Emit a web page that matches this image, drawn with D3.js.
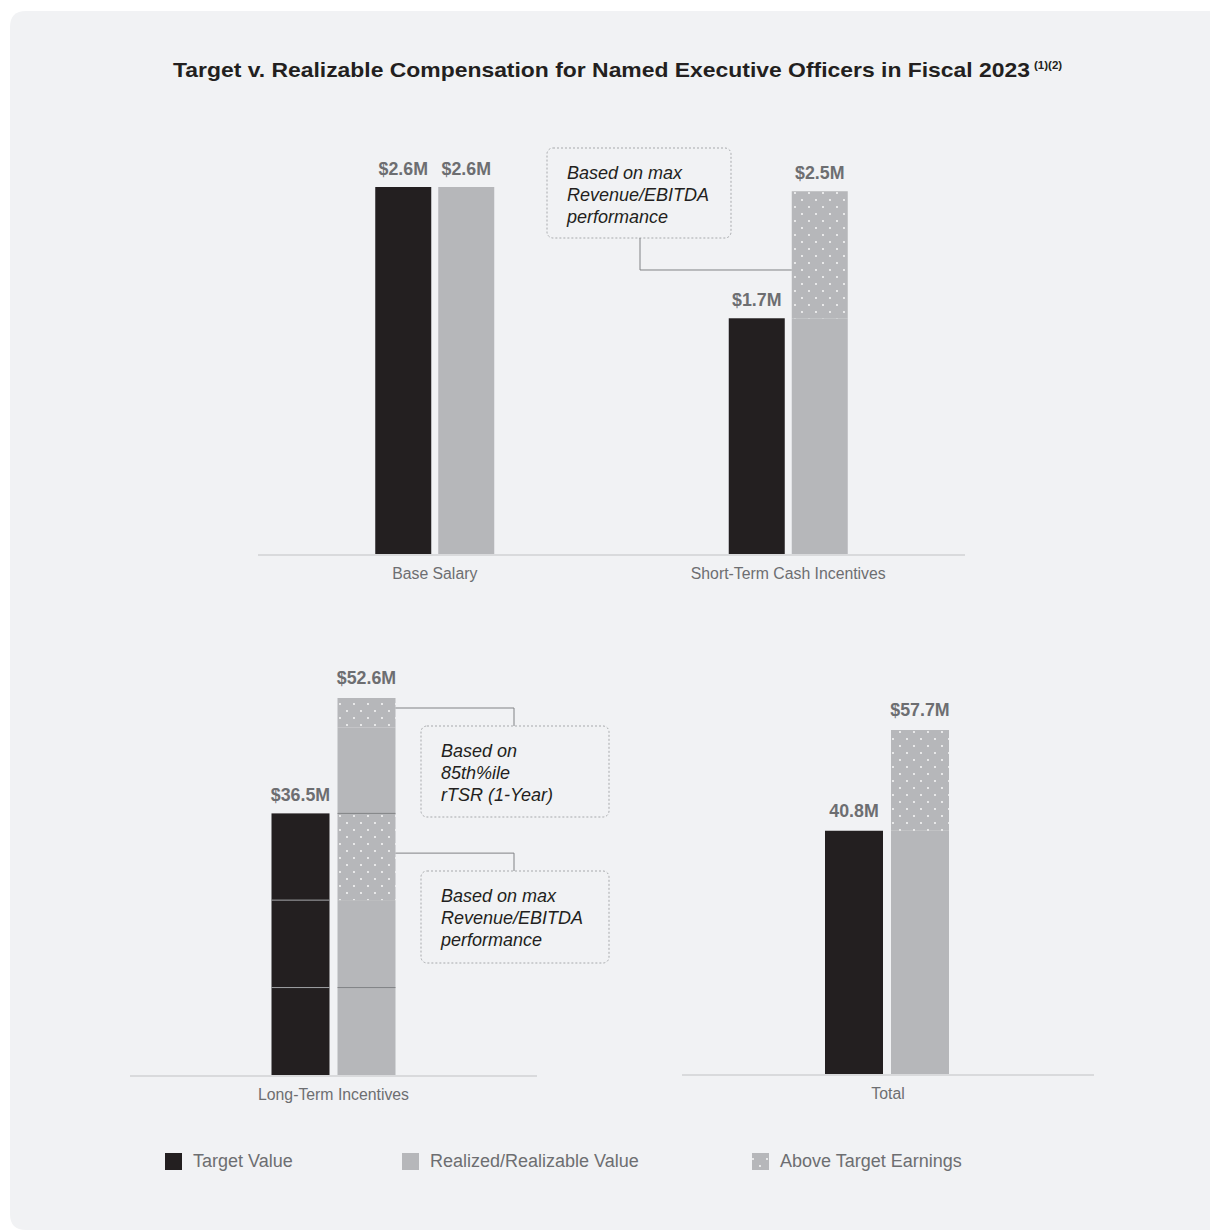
<!DOCTYPE html>
<html>
<head>
<meta charset="utf-8">
<script src="https://cdn.jsdelivr.net/npm/d3@7"></script>
<style>
  html, body { margin: 0; padding: 0; background: #ffffff; }
  svg { display: block; font-family: "Liberation Sans", Arial, Helvetica, sans-serif; }
</style>
</head>
<body>
<svg id="chart" width="1210" height="1231"></svg>
<script>
// ---------- DATA ----------
const titleText = "Target v. Realizable Compensation for Named Executive Officers in Fiscal 2023";
const titleNote = "(1)(2)";

const topCategories = ["Base Salary", "Short-Term Cash Incentives"];
const topTarget = [2.6, 1.67];
const topRealized = [2.6, 2.57];
const topTargetLabels = ["$2.6M", "$1.7M"];
const topRealizedLabels = ["$2.6M", "$2.5M"];

const ltiCategory = ["Long-Term Incentives"];
const ltiTargetSegments = [12.2, 12.2, 12.1];           // stacked pieces of target value
const ltiRealizedSegments = [12.2, 12.2, 12.1, 12.0, 4.1]; // stacked pieces of realized value
const ltiRealizedDotted = [false, false, true, false, true];
const ltiTargetLabel = "$36.5M";
const ltiRealizedLabel = "$52.6M";

const totalCategory = ["Total"];
const totalTarget = [40.8];
const totalRealized = [57.7];
const totalTargetLabels = ["40.8M"];
const totalRealizedLabels = ["$57.7M"];

const noteSTI = ["Based on max", "Revenue/EBITDA", "performance"];
const noteRTSR = ["Based on", "85th%ile", "rTSR (1-Year)"];
const noteRev = ["Based on max", "Revenue/EBITDA", "performance"];

const legendLabels = ["Target Value", "Realized/Realizable Value", "Above Target Earnings"];

// ---------- STYLE ----------
const C_DARK = "#231f20";
const C_GRAY = "#b6b7ba";
const C_TEXT = "#6d6e71";
const C_AXIS = "#d9dadc";
const C_BG = "#f1f2f4";

const svg = d3.select("#chart");

// background card
svg.append("path")
  .attr("d", (() => {
    const x0 = 10, y0 = 11, x1 = 1215, y1 = 1230, r = 16;
    return `M${x0 + r},${y0} L${x1},${y0} L${x1},${y1} L${x0 + r},${y1} Q${x0},${y1} ${x0},${y1 - r} L${x0},${y0 + r} Q${x0},${y0} ${x0 + r},${y0} Z`;
  })())
  .attr("fill", C_BG);

// dotted pattern
const defs = svg.append("defs");
const pat = defs.append("pattern")
  .attr("id", "dots").attr("patternUnits", "userSpaceOnUse")
  .attr("width", 14).attr("height", 14);
pat.append("rect").attr("width", 14).attr("height", 14).attr("fill", C_GRAY);
pat.append("circle").attr("cx", 4).attr("cy", 4).attr("r", 0.9).attr("fill", "#ffffff");
pat.append("circle").attr("cx", 11).attr("cy", 11).attr("r", 0.9).attr("fill", "#ffffff");

// title
const title = svg.append("text")
  .attr("y", 77)
  .attr("font-weight", "bold").attr("fill", C_DARK);
title.append("tspan").attr("x", 173).attr("font-size", 21)
  .attr("textLength", 857).attr("lengthAdjust", "spacingAndGlyphs").text(titleText);
title.append("tspan").attr("x", 1034).attr("font-size", 11.5).attr("dy", -8).text(titleNote);

// helpers
function axisLine(g, x0, x1, y) {
  g.append("line").attr("x1", x0).attr("x2", x1).attr("y1", y).attr("y2", y)
    .attr("stroke", C_AXIS).attr("stroke-width", 2);
}
function catLabel(g, x, y, t) {
  g.append("text").attr("x", x).attr("y", y).attr("text-anchor", "middle")
    .attr("font-size", 15.8).attr("fill", C_TEXT).text(t);
}
function valLabel(g, x, y, t) {
  g.append("text").attr("x", x).attr("y", y).attr("text-anchor", "middle")
    .attr("font-size", 17.8).attr("font-weight", "bold").attr("fill", C_TEXT).text(t);
}
function noteBox(g, x, y, w, h, lines) {
  g.append("rect").attr("x", x).attr("y", y).attr("width", w).attr("height", h)
    .attr("rx", 6).attr("ry", 6).attr("fill", "none")
    .attr("stroke", "#a7a9ac").attr("stroke-width", 1).attr("stroke-dasharray", "2,2");
  lines.forEach((l, i) => {
    g.append("text").attr("x", x + 20).attr("y", y + 31 + i * 22)
      .attr("font-size", 18).attr("font-style", "italic").attr("fill", C_DARK).text(l);
  });
}
function connector(g, pts) {
  g.append("path").attr("d", d3.line()(pts)).attr("fill", "none")
    .attr("stroke", "#808285").attr("stroke-width", 1);
}

// ---------- TOP PANEL ----------
const gTop = svg.append("g");
const topBase = 554;
const xTop = d3.scaleBand().domain(topCategories).range([258, 965]).paddingInner(0).paddingOuter(0);
const yTop = d3.scaleLinear().domain([0, 2.6]).range([topBase, 187]);
const barW = 56, gap = 7;

topCategories.forEach((c, i) => {
  const cx = xTop(c) + xTop.bandwidth() / 2;
  const xa = cx - gap / 2 - barW, xb = cx + gap / 2;
  // target
  gTop.append("rect").attr("x", xa).attr("y", yTop(topTarget[i])).attr("width", barW)
    .attr("height", topBase - yTop(topTarget[i])).attr("fill", C_DARK);
  // realized (solid portion up to target)
  const solidTop = Math.min(topTarget[i], topRealized[i]);
  gTop.append("rect").attr("x", xb).attr("y", yTop(solidTop)).attr("width", barW)
    .attr("height", topBase - yTop(solidTop)).attr("fill", C_GRAY);
  if (topRealized[i] > topTarget[i]) {
    gTop.append("rect").attr("x", xb).attr("y", yTop(topRealized[i])).attr("width", barW)
      .attr("height", yTop(topTarget[i]) - yTop(topRealized[i])).attr("fill", "url(#dots)");
  }
  valLabel(gTop, xa + barW / 2, yTop(topTarget[i]) - 12, topTargetLabels[i]);
  valLabel(gTop, xb + barW / 2, yTop(topRealized[i]) - 12, topRealizedLabels[i]);
  catLabel(gTop, cx, 579, c);
});
axisLine(gTop, 258, 965, topBase + 1);

// STI note
{
  const c = topCategories[1];
  const cx = xTop(c) + xTop.bandwidth() / 2;
  const xb = cx + gap / 2;
  const yMid = yTop(topTarget[1] + (topRealized[1] - topTarget[1]) * 0.38);
  noteBox(gTop, 547, 148, 184, 90, noteSTI);
  connector(gTop, [[640, 238], [640, yMid], [xb, yMid]]);
}

// ---------- BOTTOM LEFT: LTI ----------
const gL = svg.append("g");
const lBase = 1075;
const xL = d3.scaleBand().domain(ltiCategory).range([130, 537]);
const yL = d3.scaleLinear().domain([0, 52.6]).range([lBase, 698]);
const bw2 = 58, gap2 = 8;
{
  const cx = xL(ltiCategory[0]) + xL.bandwidth() / 2;
  const xa = cx - gap2 / 2 - bw2, xb = cx + gap2 / 2;
  let acc = 0;
  ltiTargetSegments.forEach((v, i) => {
    const y0 = yL(acc), y1 = yL(acc + v);
    gL.append("rect").attr("x", xa).attr("y", y1).attr("width", bw2).attr("height", y0 - y1).attr("fill", C_DARK);
    if (i > 0) gL.append("line").attr("x1", xa).attr("x2", xa + bw2).attr("y1", y0).attr("y2", y0)
      .attr("stroke", "#9d9fa2").attr("stroke-width", 1);
    acc += v;
  });
  const tTop = acc;
  acc = 0;
  const segTops = [];
  ltiRealizedSegments.forEach((v, i) => {
    const y0 = yL(acc), y1 = yL(acc + v);
    gL.append("rect").attr("x", xb).attr("y", y1).attr("width", bw2).attr("height", y0 - y1)
      .attr("fill", ltiRealizedDotted[i] ? "url(#dots)" : C_GRAY);
    acc += v;
    segTops.push(acc);
  });
  // divider lines in realized bar (at first-tier top and at target height)
  [ltiRealizedSegments[0], tTop].forEach(v => {
    gL.append("line").attr("x1", xb).attr("x2", xb + bw2).attr("y1", yL(v)).attr("y2", yL(v))
      .attr("stroke", "#808285").attr("stroke-width", 1);
  });
  valLabel(gL, xa + bw2 / 2, yL(tTop) - 12, ltiTargetLabel);
  valLabel(gL, xb + bw2 / 2, yL(acc) - 14, ltiRealizedLabel);
  catLabel(gL, cx, 1100, ltiCategory[0]);

  // notes
  const yUp = yL(acc) + 10;
  noteBox(gL, 421, 726, 188, 91, noteRTSR);
  connector(gL, [[xb + bw2, yUp], [514, yUp], [514, 726]]);
  const yLow = yL(segTops[1]) - 47;
  noteBox(gL, 421, 871, 188, 92, noteRev);
  connector(gL, [[xb + bw2, yLow], [514, yLow], [514, 871]]);
}
axisLine(gL, 130, 537, lBase + 1);

// ---------- BOTTOM RIGHT: TOTAL ----------
const gR = svg.append("g");
const rBase = 1074;
const xR = d3.scaleBand().domain(totalCategory).range([682, 1094]);
const yR = d3.scaleLinear().domain([0, 57.7]).range([rBase, 730]);
{
  const cx = xR(totalCategory[0]) + xR.bandwidth() / 2;
  const xa = cx - gap2 / 2 - bw2 - 1, xb = cx + gap2 / 2 - 1;
  gR.append("rect").attr("x", xa).attr("y", yR(totalTarget[0])).attr("width", bw2)
    .attr("height", rBase - yR(totalTarget[0])).attr("fill", C_DARK);
  gR.append("rect").attr("x", xb).attr("y", yR(totalTarget[0])).attr("width", bw2)
    .attr("height", rBase - yR(totalTarget[0])).attr("fill", C_GRAY);
  gR.append("rect").attr("x", xb).attr("y", yR(totalRealized[0])).attr("width", bw2)
    .attr("height", yR(totalTarget[0]) - yR(totalRealized[0])).attr("fill", "url(#dots)");
  valLabel(gR, xa + bw2 / 2, yR(totalTarget[0]) - 14, totalTargetLabels[0]);
  valLabel(gR, xb + bw2 / 2, yR(totalRealized[0]) - 14, totalRealizedLabels[0]);
  catLabel(gR, cx, 1099, totalCategory[0]);
}
axisLine(gR, 682, 1094, rBase + 1);

// ---------- LEGEND ----------
const gLeg = svg.append("g");
const legX = [165, 402, 752];
const legFill = [C_DARK, C_GRAY, "url(#dots)"];
legendLabels.forEach((t, i) => {
  gLeg.append("rect").attr("x", legX[i]).attr("y", 1153).attr("width", 17).attr("height", 17)
    .attr("fill", legFill[i]);
  gLeg.append("text").attr("x", legX[i] + 28).attr("y", 1167)
    .attr("font-size", 18).attr("fill", C_TEXT).text(t);
});
</script>
</body>
</html>
